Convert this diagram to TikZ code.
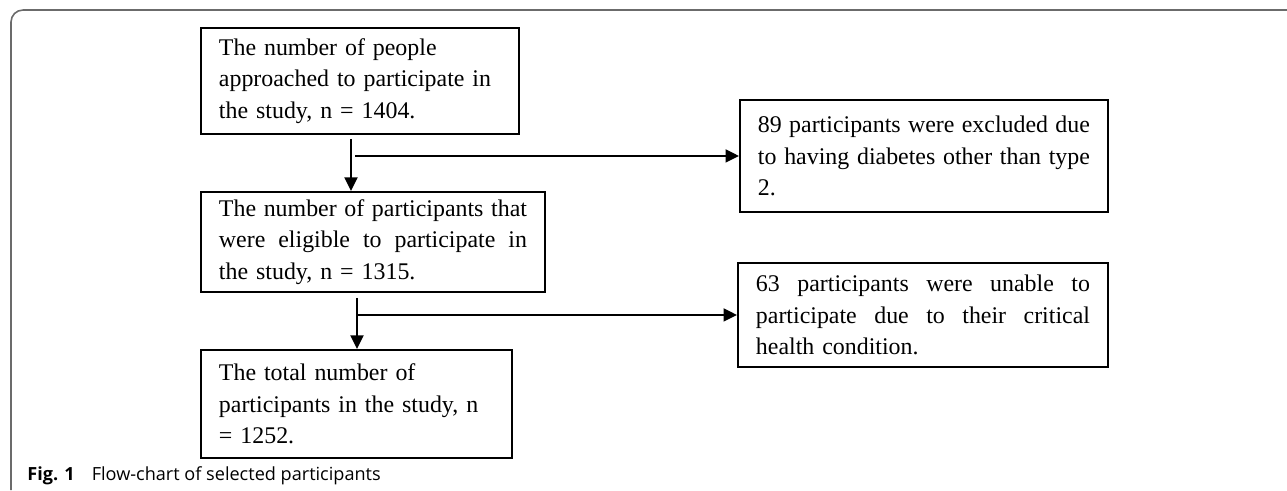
\documentclass[tikz,border=0pt]{standalone}
\usepackage{fontspec}
\setmainfont{Liberation Serif}
\newfontfamily\figcapfont{Open Sans}
\usetikzlibrary{arrows.meta,positioning}
\definecolor{Frame}{HTML}{6B6B6B}
\newcommand{\fullline}[2]{\makebox[#1][s]{\spaceskip=.25em plus 1fil minus .06em\relax #2}}
\tikzset{
  stepbox/.style={draw=black,line width=1.1pt,align=left,inner xsep=.36cm,inner ysep=.1cm,font=\fontsize{13.6}{18}\selectfont},
  flow/.style={-{Triangle[length=2.7mm,width=2.6mm]},draw=black,line width=1.1pt},
  frame/.style={draw=Frame,line width=.9pt},
  figcap/.style={font=\figcapfont\fontsize{10.3}{12}\selectfont,anchor=base west,inner sep=0pt}
}
\begin{document}
\begin{tikzpicture}
  \useasboundingbox (0,0) rectangle (25.74,-9.8);
  % outer frame
  \draw[frame] (0.22,-9.8) -- (0.22,-0.44) arc[start angle=180,end angle=90,radius=0.24] -- (25.74,-0.2);

  % main column
  \node[stepbox,anchor=north west,text width=5.64cm,minimum height=2.12cm] (approached) at (4.00,-0.54)
    {The number of people\\ approached to participate in\\ the study, n = 1404.};
  \node[stepbox,below=1.12cm of approached.south west,anchor=north west,text width=6.16cm,minimum height=2.0cm] (eligible)
    {\fullline{6.16cm}{The number of participants that}\\ \fullline{6.16cm}{were eligible to participate in}\\ the study, n = 1315.};
  \node[stepbox,below=1.12cm of eligible.south west,anchor=north west,text width=5.50cm,minimum height=2.16cm] (enrolled)
    {The total number of\\ participants in the study, n\\ = 1252.};

  % exclusions
  \node[stepbox,anchor=north west,text width=6.64cm,minimum height=2.24cm] (diabetes) at (14.78,-1.98)
    {\fullline{6.64cm}{89 participants were excluded due}\\ \fullline{6.64cm}{to having diabetes other than type}\\ 2.};
  \node[stepbox,anchor=north west,text width=6.68cm,minimum height=2.08cm] (critical) at (14.74,-5.24)
    {\fullline{6.68cm}{63 participants were unable to}\\ \fullline{6.68cm}{participate due to their critical}\\ health condition.};

  % connectors
  \coordinate (split1) at ([xshift=3.02cm]approached.south west |- diabetes.west);
  \coordinate (split2) at ([xshift=3.14cm]eligible.south west |- critical.west);
  \draw[flow] ([xshift=3.02cm,yshift=-.08cm]approached.south west) -- ([xshift=3.02cm]approached.south west |- eligible.north);
  \draw[flow] ([xshift=.08cm]split1) -- (diabetes.west);
  \draw[flow] ([xshift=3.14cm,yshift=-.1cm]eligible.south west) -- ([xshift=3.14cm]eligible.south west |- enrolled.north);
  \draw[flow] (split2) -- (critical.west);

  \node[figcap] (caption) at (0.54,-9.6) {\textbf{Fig. 1}\hspace{.34cm}Flow-chart of selected participants};
\end{tikzpicture}
\end{document}
